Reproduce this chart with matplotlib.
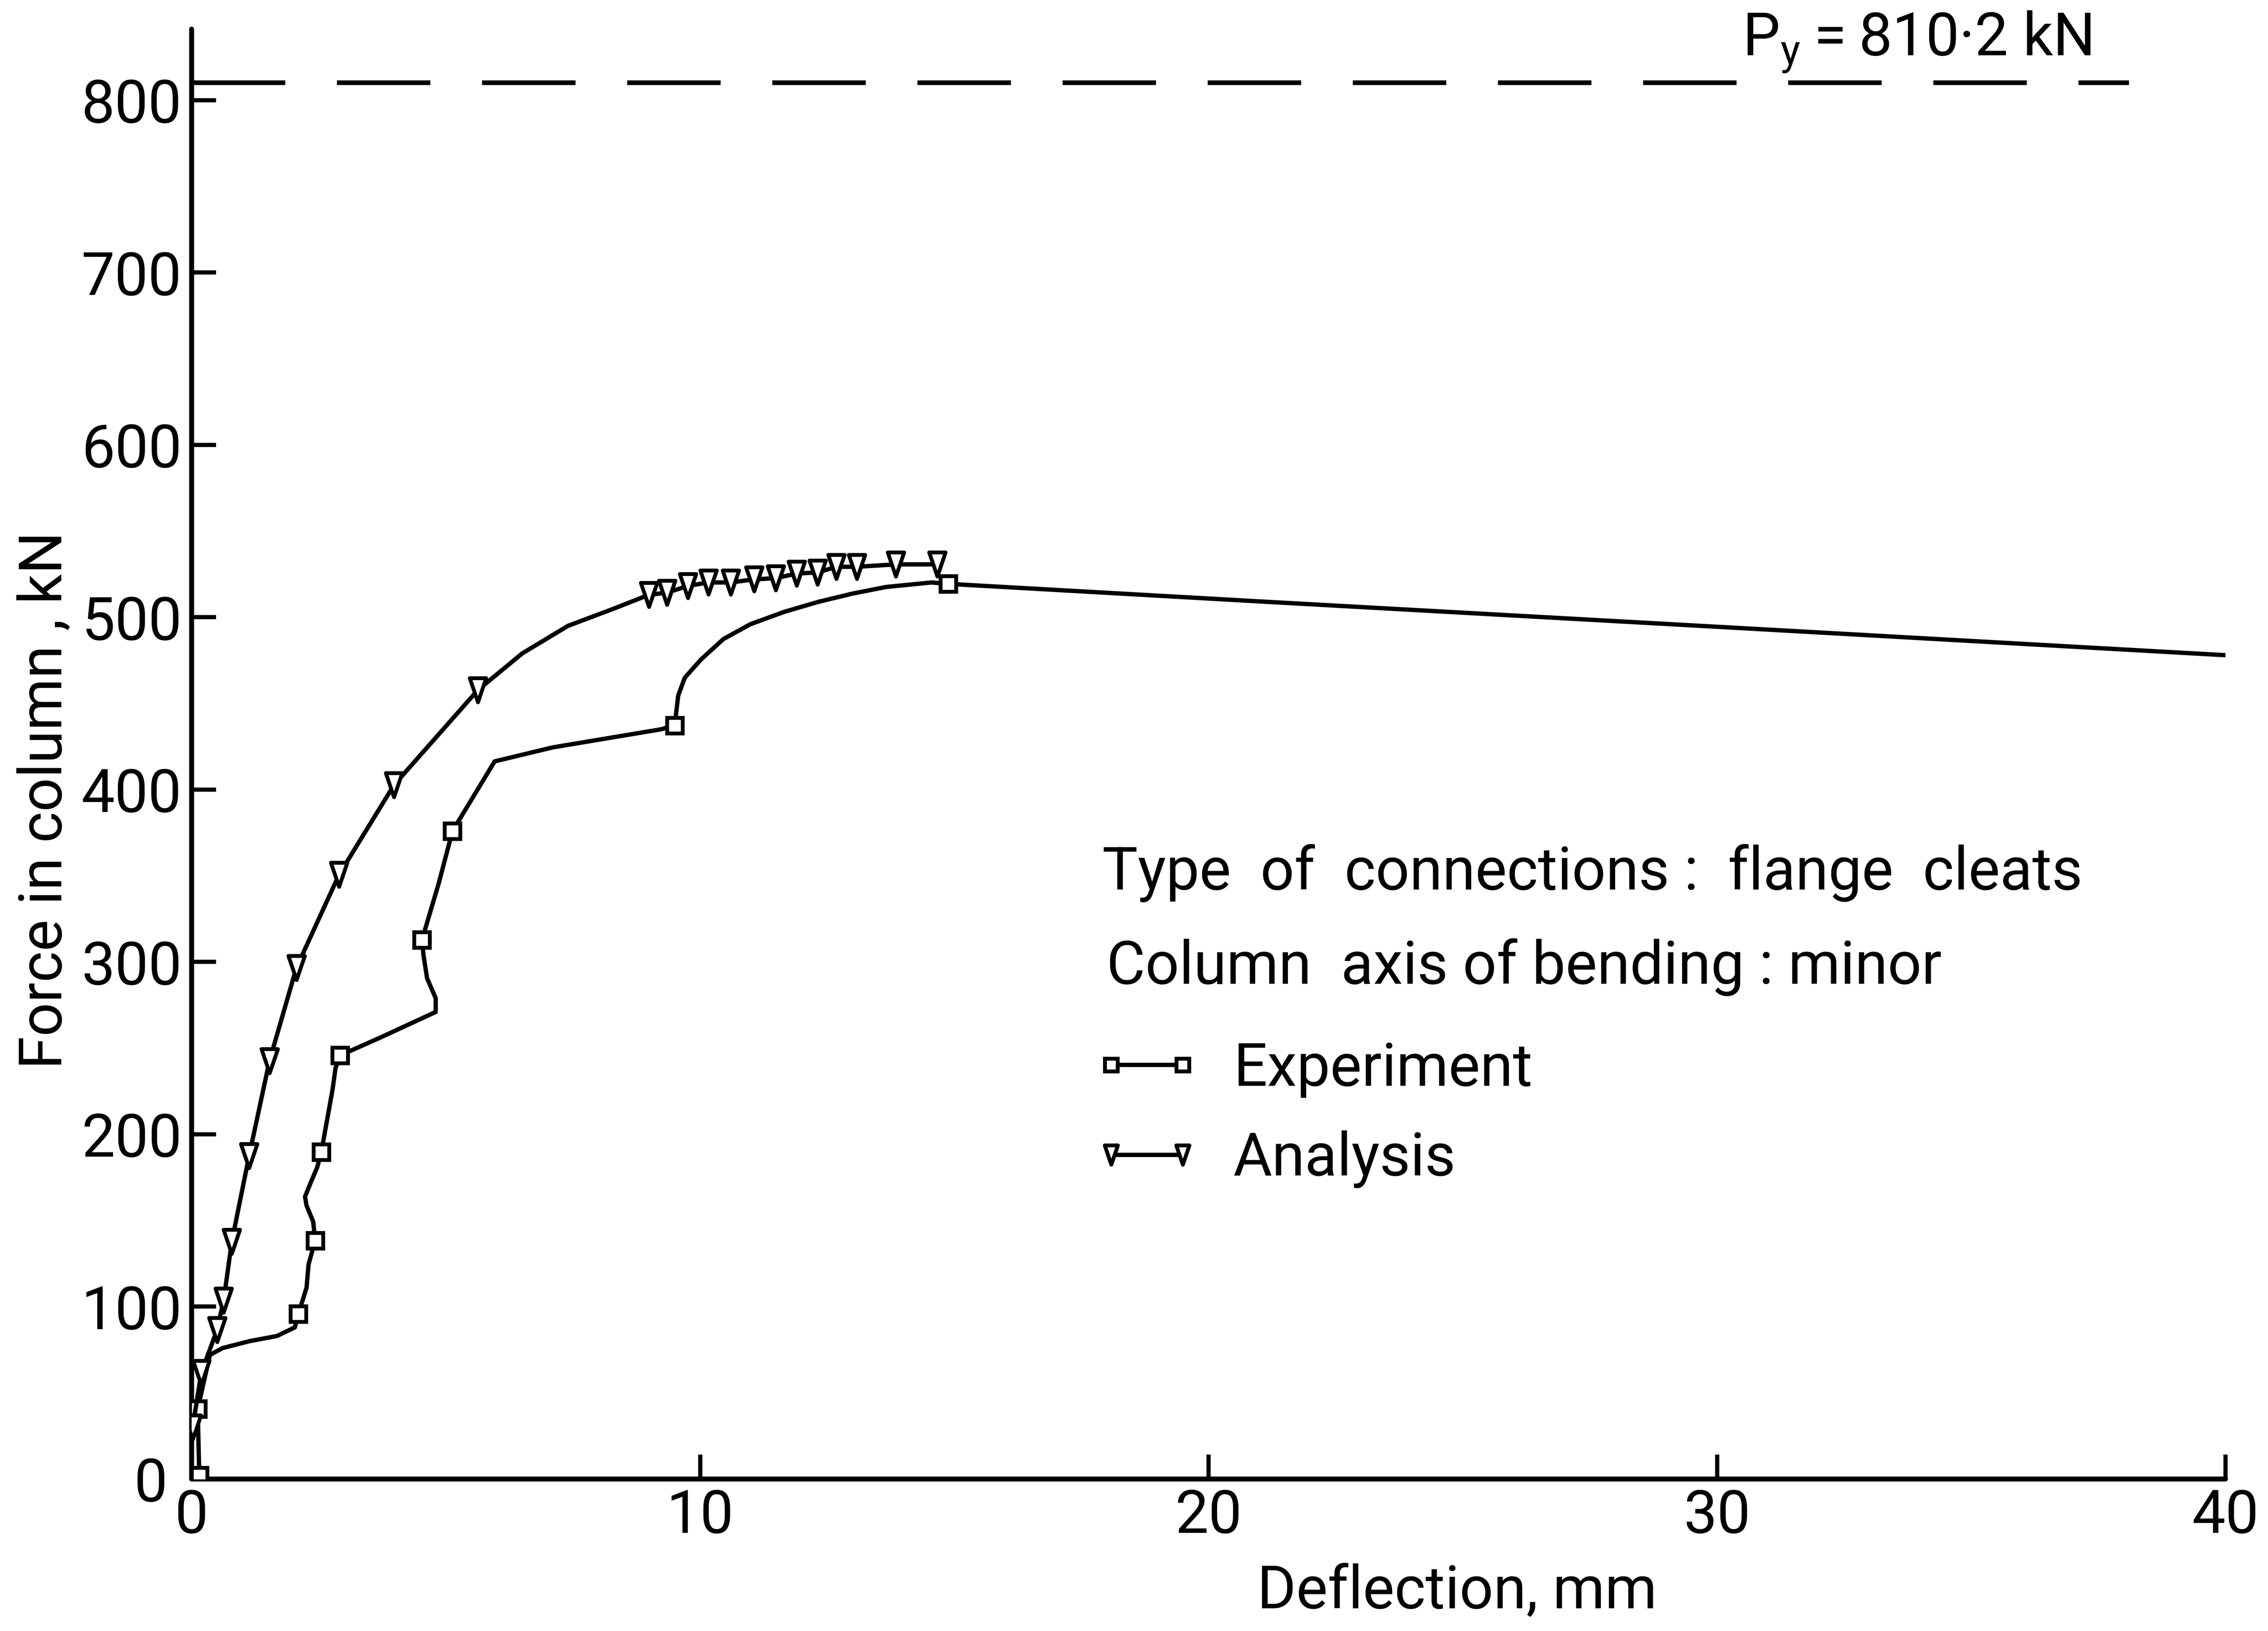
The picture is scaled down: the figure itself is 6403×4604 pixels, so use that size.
import matplotlib
matplotlib.use("Agg")
import matplotlib.pyplot as plt
from matplotlib.path import Path
from matplotlib.transforms import ScaledTranslation

# ---- data -------------------------------------------------------------
# Experiment: measured load-deflection path (deflection in mm, force in kN)
exp_defl = [0.15, 0.12, 0.36, 0.61, 1.14, 1.68, 2.03, 2.10, 2.26, 2.30,
            2.43, 2.39, 2.26, 2.23, 2.32, 2.47, 2.55, 2.77, 2.83, 2.92,
            3.70, 4.80, 4.80, 4.63, 4.56, 4.53, 4.86, 5.13, 5.96, 7.10,
            9.23, 9.50, 9.57, 9.70, 10.02, 10.46, 10.99, 11.66, 12.33, 12.99,
            13.66, 14.55, 14.88, 21.31, 30.0, 40.0]
exp_force = [2.0, 40.7, 72.0, 76.0, 80.0, 83.0, 88.0, 95.8, 111.0, 124.6,
             138.3, 149.4, 158.7, 163.8, 170.4, 180.9, 189.7, 225.7, 238.4, 245.8,
             256.0, 271.0, 279.0, 290.6, 304.0, 312.8, 345.7, 376.0, 416.4, 424.5,
             435.0, 437.3, 454.7, 465.0, 475.6, 487.4, 496.0, 503.2, 509.0, 513.7,
             517.6, 520.2, 519.4, 508.7, 494.5, 478.0]
# readings that carry a square symbol
exp_marked = [0, 1, 7, 10, 16, 19, 25, 27, 31, 42]

# Analysis: predicted load-deflection path
ana_defl = [0.02, 0.19, 0.50, 0.63, 0.79, 1.13, 1.53, 2.06, 2.90, 3.98,
            5.63, 6.50, 7.40, 8.30,
            8.99, 9.35, 9.76, 10.16, 10.60, 11.06, 11.49, 11.90, 12.31, 12.68,
            13.08, 13.85, 14.66]
ana_force = [30.0, 61.7, 86.5, 103.6, 137.7, 187.5, 242.5, 296.6, 350.7, 402.7,
             457.8, 479.0, 495.0, 505.0,
             513.0, 514.3, 518.2, 520.2, 520.2, 522.0, 522.7, 525.4, 526.0, 529.3,
             529.3, 530.7, 530.7]
ana_marked = [0, 1, 2, 3, 4, 5, 6, 7, 8, 9, 10,
              14, 15, 16, 17, 18, 19, 20, 21, 22, 23, 24, 25, 26]

# squash load of the column
py_force = 810.2
py_extent = 38.1

x_ticks = [0, 10, 20, 30, 40]
y_ticks = [0, 100, 200, 300, 400, 500, 600, 700, 800]

series_labels = ["Experiment", "Analysis"]
note_lines = ["Type  of  connections :  flange  cleats",
              "Column  axis of bending : minor"]

# ---- style ------------------------------------------------------------
plt.rcParams["font.family"] = ["Roboto", "DejaVu Sans"]
plt.rcParams["mathtext.fontset"] = "custom"
plt.rcParams["mathtext.rm"] = "Roboto"
plt.rcParams["mathtext.it"] = "Roboto"
plt.rcParams["mathtext.bf"] = "Roboto"
plt.rcParams["lines.scale_dashes"] = False

FS = 121
INK = "black"
LW = 8.8
MEW = 7.8

# tall, downward-pointing open triangle
tri_marker = Path([(-0.34, 0.5), (0.34, 0.5), (0.0, -0.5), (0.0, 0.0)],
                  [Path.MOVETO, Path.LINETO, Path.LINETO, Path.CLOSEPOLY])

fig = plt.figure(figsize=(64.03, 46.04), dpi=100)
ax = fig.add_axes([0.08449, 0.09318, 0.8968, 0.8890])
ax.set_xlim(0, 40)
ax.set_ylim(0, 841.3)

for side in ("top", "right"):
    ax.spines[side].set_visible(False)
for side in ("left", "bottom"):
    ax.spines[side].set_linewidth(10)
    ax.spines[side].set_color(INK)
    ax.spines[side].set_capstyle("round")

ax.set_xticks(x_ticks)
ax.set_yticks(y_ticks)
ax.set_xticklabels([str(v) for v in x_ticks])
ax.set_yticklabels([str(v) for v in y_ticks])
ax.tick_params(axis="both", direction="in", length=50, width=8.5,
               color=INK, labelsize=FS, labelcolor=INK)
ax.tick_params(axis="x", pad=18)
ax.tick_params(axis="y", pad=20)

# keep the vertical-axis zero clear of the horizontal-axis zero
ylab0 = ax.yaxis.get_major_ticks()[0].label1
ylab0.set_transform(ylab0.get_transform()
                    + ScaledTranslation(-0.4, 0, fig.dpi_scale_trans))

# yield (squash) load reference line
py_line, = ax.plot([0, py_extent], [py_force, py_force], color=INK,
                   lw=9.5, solid_capstyle="butt")
py_line.set_dashes((190, 105))
py_line.set_dash_capstyle("butt")
ax.text(30.5, 826.0, "P$_{\\mathrm{y}}$\u2009=\u2009810\u00b72 kN", fontsize=FS,
        ha="left", va="baseline", color=INK)

exp_line, = ax.plot(exp_defl, exp_force, color=INK, lw=LW,
                    marker="s", markersize=32, markevery=exp_marked,
                    markerfacecolor="white", markeredgecolor=INK,
                    markeredgewidth=MEW, solid_joinstyle="round",
                    label=series_labels[0], zorder=3)
ana_line, = ax.plot(ana_defl, ana_force, color=INK, lw=LW,
                    marker=tri_marker, markersize=49, markevery=ana_marked,
                    markerfacecolor="white", markeredgecolor=INK,
                    markeredgewidth=MEW, solid_joinstyle="round",
                    label=series_labels[1], zorder=3)

# descriptive notes above the legend
ax.text(17.91, 342.0, note_lines[0], fontsize=FS, ha="left", va="baseline",
        color=INK)
ax.text(17.99, 287.4, note_lines[1], fontsize=FS, ha="left", va="baseline",
        color=INK)

leg = ax.legend(handles=[exp_line, ana_line], loc="upper left",
                bbox_to_anchor=(3087 / 6403, 1 - 2938 / 4604),
                bbox_transform=fig.transFigure, frameon=False,
                fontsize=FS, numpoints=2, markerscale=0.8,
                handlelength=1.8, handletextpad=0.55,
                labelspacing=0.55, borderpad=0, borderaxespad=0)
for t in leg.get_texts():
    t.set_color(INK)

ax.set_xlabel("Deflection, mm", fontsize=FS, color=INK)
ax.xaxis.set_label_coords(0.6222, -0.058)
ax.set_ylabel("Force in column , kN", fontsize=FS, color=INK)
ax.yaxis.set_label_coords(-0.058, 0.468)

fig.savefig("out.png", dpi=100, facecolor="white")
